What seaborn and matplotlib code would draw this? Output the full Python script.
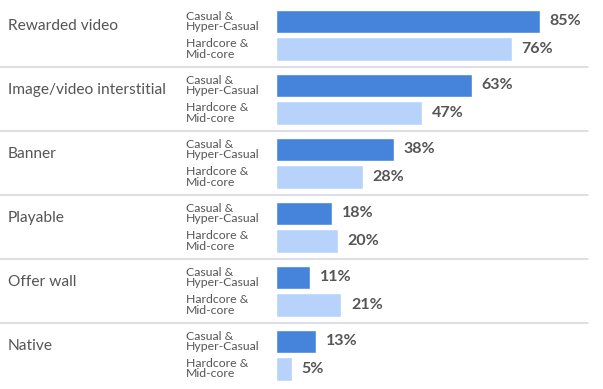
import pandas as pd
import seaborn as sns
import matplotlib.pyplot as plt

# Ad formats and share of respondents using them, per game segment
formats = ["Rewarded video", "Image/video interstitial", "Banner", "Playable", "Offer wall", "Native"]
segments = ["Casual &\nHyper-Casual", "Hardcore &\nMid-core"]
casual = [85, 63, 38, 18, 11, 13]
hardcore = [76, 47, 28, 20, 21, 5]

df = pd.DataFrame({
    "format": formats * 2,
    "segment": [segments[0]] * len(formats) + [segments[1]] * len(formats),
    "share": casual + hardcore,
})

sns.set_style("white")
plt.rcParams['font.family'] = ['Lato', 'DejaVu Sans']
text_color = "#555555"

fig = plt.figure(figsize=(6.03, 3.89), dpi=100)
ax = fig.add_axes([0, 0, 1, 1])

sns.barplot(data=df, x="share", y="format", hue="segment", orient="h",
            palette=["#4684DB", "#B7D3FB"], saturation=1, width=0.86, gap=0.14,
            legend=False, ax=ax)

px = 3.105  # pixels per percentage point
ax.set_xlim(-276 / px, (603 - 276) / px)
ax.set_ylim(5.53, -0.55)
ax.axis("off")

# value labels and segment labels next to each bar
for cont, seg in zip(ax.containers, segments):
    ax.bar_label(cont, fmt="{:.0f}%", padding=7, fontsize=11.5,
                 fontweight="bold", color=text_color)
    for bar in cont:
        yc = bar.get_y() + bar.get_height() / 2
        ax.text(-90 / px, yc, seg, va="center", ha="left", fontsize=8.8,
                color=text_color, linespacing=0.92)

# format names on the left
for i, name in enumerate(formats):
    ax.text(-268 / px, i - 0.14, name, va="center", ha="left", fontsize=11.2, color=text_color)

# separators between groups
for i in range(len(formats) - 1):
    ax.axhline(i + 0.5, xmin=0, xmax=588 / 603, color="#D8D8E2", lw=1.2)

fig.savefig("out.png", dpi=100)
